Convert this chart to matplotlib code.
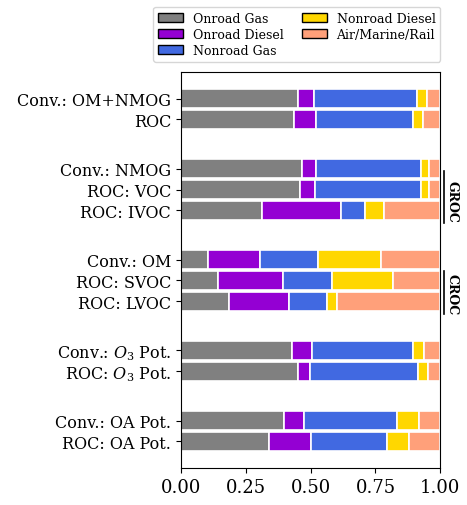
import numpy as np
import matplotlib
matplotlib.use("Agg")
import matplotlib.pyplot as plt
from matplotlib.patches import Patch

plt.rcParams['font.family'] = 'DejaVu Serif'
plt.rcParams['mathtext.fontset'] = 'dejavuserif'

# Row labels, top to bottom
labels = ["Conv.: OM+NMOG", "ROC",
          "Conv.: NMOG", "ROC: VOC", "ROC: IVOC",
          "Conv.: OM", "ROC: SVOC", "ROC: LVOC",
          "Conv.: $O_3$ Pot.", "ROC: $O_3$ Pot.",
          "Conv.: OA Pot.", "ROC: OA Pot."]
# group index of each row (groups are separated by a larger gap)
groups = [0, 0, 1, 1, 1, 2, 2, 2, 3, 3, 4, 4]

sources = ["Onroad Gas", "Onroad Diesel", "Nonroad Gas", "Nonroad Diesel", "Air/Marine/Rail"]
colors = ["gray", "darkviolet", "royalblue", "gold", "lightsalmon"]

# Fraction of each row contributed by each source
onroad_gas     = [0.452, 0.438, 0.466, 0.460, 0.312, 0.105, 0.142, 0.185, 0.429, 0.453, 0.399, 0.341]
onroad_diesel  = [0.062, 0.083, 0.054, 0.056, 0.305, 0.201, 0.252, 0.233, 0.078, 0.044, 0.077, 0.160]
nonroad_gas    = [0.397, 0.374, 0.407, 0.411, 0.094, 0.223, 0.190, 0.144, 0.387, 0.418, 0.357, 0.294]
nonroad_diesel = [0.036, 0.038, 0.029, 0.029, 0.072, 0.244, 0.234, 0.039, 0.044, 0.039, 0.085, 0.083]
air_marine     = [0.053, 0.067, 0.044, 0.044, 0.217, 0.227, 0.182, 0.399, 0.062, 0.046, 0.082, 0.122]

fractions = np.array([onroad_gas, onroad_diesel, nonroad_gas, nonroad_diesel, air_marine])

# y positions: one unit per bar, extra space between groups
gap = 1.38
ypos = np.arange(len(labels)) + gap * np.array(groups)

fig = plt.figure(figsize=(4.67, 5.06), dpi=100)
ax = fig.add_axes([0.387, 0.0731, 0.556, 0.783])

left = np.zeros(len(labels))
for frac, c in zip(fractions, colors):
    ax.barh(ypos, frac, left=left, height=0.92, color=c, edgecolor="white", linewidth=1.2)
    left += frac

ax.set_yticks(ypos)
ax.set_yticklabels(labels, fontsize=11.5)
ax.set_xlim(0, 1)
ax.set_xticks([0, 0.25, 0.5, 0.75, 1.0])
ax.set_xticklabels(["0.00", "0.25", "0.50", "0.75", "1.00"], fontsize=13)
ax.set_ylim(ypos[-1] + 1.29, -1.3)

# bracket labels for the ROC sub-groups on the right
tr = ax.get_yaxis_transform()
for name, y0, y1, yc in [("GROC", 3.49, 6.0, 4.95), ("CROC", 8.31, 10.4, 9.4)]:
    ax.plot([1.0154, 1.0154], [y0, y1], color="black", lw=1.2, transform=tr, clip_on=False)
    ax.text(1.045, yc, name, rotation=270, transform=tr, ha="center", va="center",
            fontsize=9, fontweight="bold")

handles = [Patch(facecolor=c, edgecolor="black", label=s) for s, c in zip(sources, colors)]
ax.legend(handles=handles, ncol=2, loc="lower right", bbox_to_anchor=(1.0, 1.025),
          borderaxespad=0, fontsize=9, labelspacing=0.25, columnspacing=1.4)

fig.savefig("out.png", dpi=100)
